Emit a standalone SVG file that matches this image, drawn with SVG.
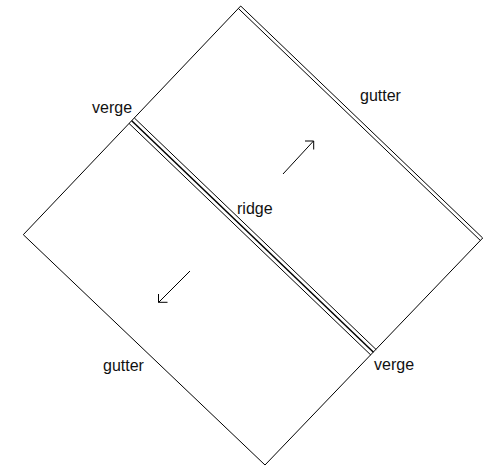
<svg xmlns="http://www.w3.org/2000/svg" width="502" height="468" viewBox="0 0 502 468">
<style>
text{font-family:"Liberation Sans",Arial,sans-serif;font-size:16px;fill:#111}
.l{fill:none;stroke:#000;stroke-width:1}
.m{stroke-width:1.5}
</style>
<rect width="502" height="468" fill="#fff"/>
<g id="roof">
<path class="l" d="M240.7 6L482.7 238L265 465L23.3 234.7Z"/>
<path class="l" d="M238.4 8.5L480.4 240.5"/>
</g>
<g id="ridge">
<path class="l" d="M134.4 118L376.2 349.6"/>
<path class="l m" d="M131.7 120.7L373.5 352.3"/>
<path class="l" d="M129 123.4L370.8 355"/>
</g>
<g id="connectors">
<path class="l" d="M283 174L313.5 141M305 141H313.7V149.5"/>
<path class="l" d="M190 271L158.5 302.5M158.5 294V302.3H167.5"/>
</g>
<g id="labels">
<text x="92" y="112.5">verge</text>
<text x="360" y="101">gutter</text>
<text x="237" y="213.5">ridge</text>
<text x="374" y="370">verge</text>
<text x="103" y="371">gutter</text>
</g>
</svg>
